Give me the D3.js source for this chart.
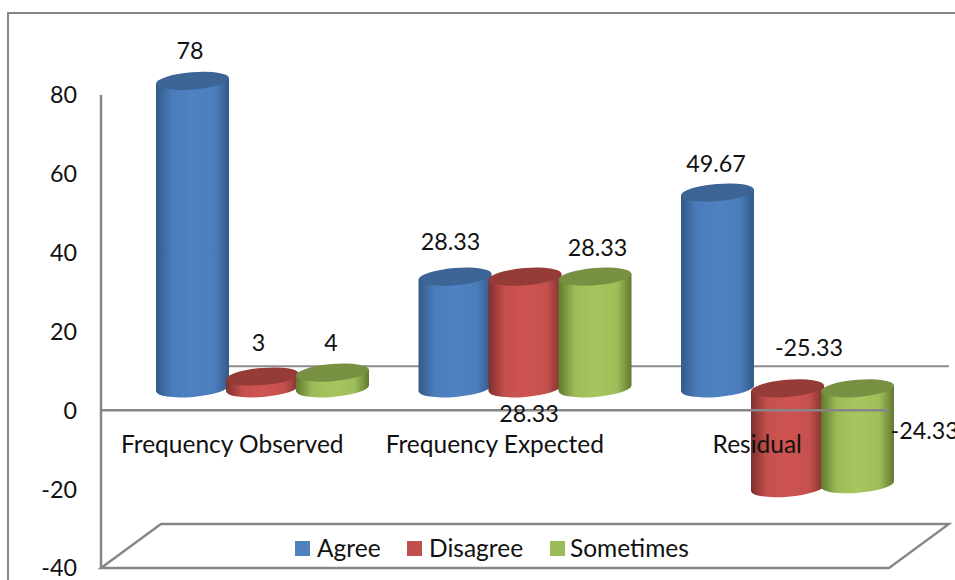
<!DOCTYPE html>
<html>
<head>
<meta charset="utf-8">
<script src="https://cdn.jsdelivr.net/npm/d3@7"></script>
<style>
  html, body { margin: 0; padding: 0; background: #fff; overflow: hidden; }
  text { font-family: Lato, "Open Sans", sans-serif; font-size: 23.3px; fill: #111; }
  text.word { font-size: 24.5px; }
</style>
</head>
<body>
<svg id="chart" width="955" height="580"></svg>
<script>
// Chart values
const categories = ["Frequency Observed", "Frequency Expected", "Residual"];
const seriesNames = ["Agree", "Disagree", "Sometimes"];
const agree = [78, 28.33, 49.67];
const disagree = [3, 28.33, -25.33];
const sometimes = [4, 28.33, -24.33];
const yTicks = [-40, -20, 0, 20, 40, 60, 80];

// Colours per series: side centre, side edge, cap, legend key
const sideColors = ["#4f82c3", "#cf5451", "#a6c75f"];
const edgeColors = ["#335a87", "#7d312f", "#62792f"];
const capColors = ["#3c6494", "#953b38", "#789042"];
const keyColors = ["#4f81bd", "#c0504d", "#9bbb59"];

// Label nudges away from the cylinder ends, per series then category
const labelNudge = [
  [[-2.5, -22], [-4.5, -27], [-1.5, -21]],
  [[-4, -26], [4, 145], [21.5, -32]],
  [[-1.5, -22], [2.5, -21], [0, 0]]
];

const svg = d3.select("#chart");
const values = [agree, disagree, sometimes];

// Front-plane value scale; the cylinders sit on a plane shifted back and up
const y = d3.scaleLinear().domain([-40, 80]).range([568, 95]);
const depth = { x: 60, y: -44 };
const planeLeft = 101, planeRight = 889;
const baseShift = -22;

const x0 = d3.scaleBand().domain(categories)
  .range([planeLeft + 30, planeLeft + 30 + 262.5 * 3]).paddingInner(0).paddingOuter(0);
const x1 = d3.scaleBand().domain(seriesNames).range([26.5, 26.5 + 70 * 3]);

const barY = v => y(v) + baseShift;
const barRx = 36.6, barRy = 8.6, tiltDx = 36.5, tiltDy = 3;
const tiltDeg = -4.7;
const grey = "#868686";

const defs = svg.append("defs");
seriesNames.forEach((s, i) => {
  const g = defs.append("linearGradient").attr("id", "side" + i);
  [[0, 0], [0.22, 0.86], [0.5, 1], [0.8, 0.88], [1, 0]].forEach(([o, a]) => {
    g.append("stop").attr("offset", o)
      .attr("stop-color", d3.interpolateRgb(edgeColors[i], sideColors[i])(a));
  });
});

// Outer frame
svg.append("path").attr("fill", "none").attr("stroke", grey).attr("stroke-width", 2)
  .attr("d", "M8,580V13H955");

// Back wall line at zero, then the floor parallelogram
svg.append("line").attr("stroke", "#8c8c8c").attr("stroke-width", 2)
  .attr("x1", planeLeft + depth.x).attr("x2", planeRight + depth.x)
  .attr("y1", y(0) + depth.y).attr("y2", y(0) + depth.y);

const corner = [
  [planeLeft, y(-40)], [planeLeft + depth.x, y(-40) + depth.y],
  [planeRight + depth.x, y(-40) + depth.y], [planeRight, y(-40)]
];
svg.append("path").attr("fill", "none").attr("stroke", grey).attr("stroke-width", 2.3)
  .attr("d", d3.line()(corner) + "Z");

// Vertical axis
svg.append("line").attr("stroke", grey).attr("stroke-width", 2.5)
  .attr("x1", planeLeft).attr("x2", planeLeft).attr("y1", y(80)).attr("y2", y(-40));
svg.append("g").selectAll("text").data(yTicks).join("text")
  .attr("x", 77).attr("y", d => y(d)).attr("dy", "0.36em").attr("text-anchor", "end")
  .text(d => d);

// Cylinders
function cylinder(cx, top, bottom) {
  const arc = `A${barRx},${barRy} ${tiltDeg} 0 0`;
  return `M${cx - tiltDx},${top + tiltDy}V${bottom + tiltDy}` +
    `${arc} ${cx + tiltDx},${bottom - tiltDy}V${top - tiltDy}Z`;
}
seriesNames.forEach((s, i) => {
  categories.forEach((c, j) => {
    const v = values[i][j];
    const cx = x0(c) + x1(s) + x1.bandwidth() / 2;
    const top = Math.min(barY(v), barY(0));
    const bottom = Math.max(barY(v), barY(0));
    const g = svg.append("g");
    g.append("path").attr("fill", `url(#side${i})`).attr("d", cylinder(cx, top, bottom));
    g.append("ellipse").attr("fill", capColors[i])
      .attr("rx", barRx).attr("ry", barRy)
      .attr("transform", `translate(${cx},${top}) rotate(${tiltDeg})`);
  });
});

// Front-plane zero line passes over the downward cylinders
svg.append("line").attr("stroke", grey).attr("stroke-width", 2.5)
  .attr("x1", planeLeft).attr("x2", planeRight).attr("y1", y(0)).attr("y2", y(0));

// Category labels
svg.append("g").selectAll("text").data(categories).join("text")
  .attr("class", "word")
  .attr("x", d => x0(d) + x0.bandwidth() / 2 - 30).attr("y", y(0) + 43)
  .attr("text-anchor", "middle").text(d => d);

// Value labels
seriesNames.forEach((s, i) => {
  categories.forEach((c, j) => {
    const v = values[i][j];
    const cx = x0(c) + x1(s) + x1.bandwidth() / 2;
    const [dx, dy] = labelNudge[i][j];
    const t = svg.append("text")
      .attr("y", Math.min(barY(v), barY(0)) + dy)
      .text(v);
    if (i === 2 && j === 2) {
      t.attr("x", cx + barRx - 3.5).attr("y", barY(v) - 45);
    } else {
      t.attr("x", cx + dx).attr("text-anchor", "middle");
    }
  });
});

// Legend
const legendSwatch = [295, 407, 550];
const legendText = [317, 429, 570];
const legend = svg.append("g");
seriesNames.forEach((s, i) => {
  legend.append("rect").attr("x", legendSwatch[i]).attr("y", 541)
    .attr("width", 15).attr("height", 15).attr("fill", keyColors[i]);
  legend.append("text").attr("class", "word").attr("x", legendText[i]).attr("y", 557).text(s);
});
</script>
</body>
</html>
